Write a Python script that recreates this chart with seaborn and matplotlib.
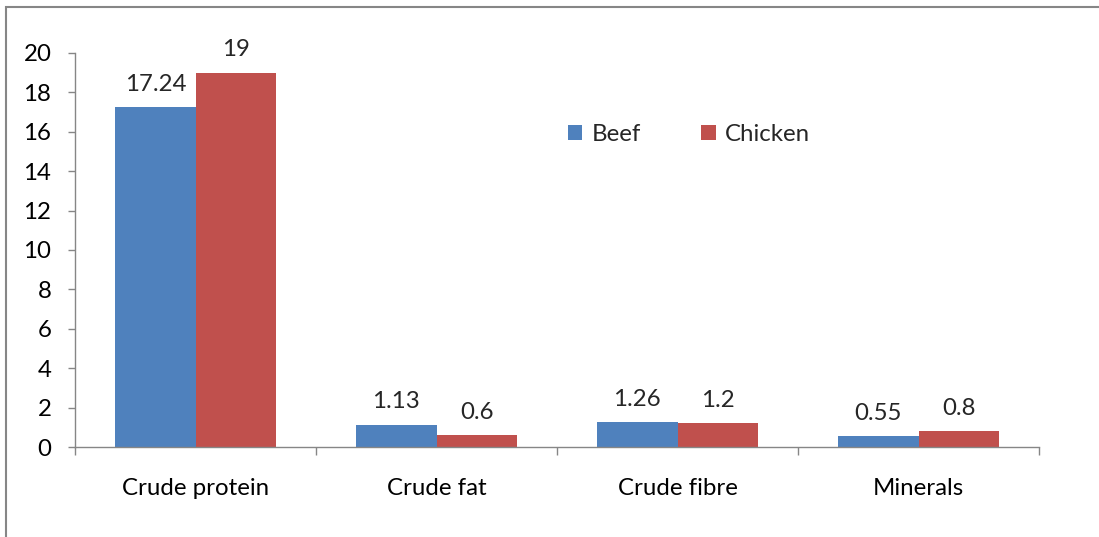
import pandas as pd
import matplotlib.pyplot as plt
import seaborn as sns
from matplotlib.patches import Rectangle

# valeurs
categories = ['Crude protein', 'Crude fat', 'Crude fibre', 'Minerals']
beef = [17.24, 1.13, 1.26, 0.55]
chicken = [19, 0.6, 1.2, 0.8]

df = pd.DataFrame({
    'component': categories * 2,
    'value': beef + chicken,
    'meat': ['Beef'] * 4 + ['Chicken'] * 4,
})

sns.set_style('white')
plt.rcParams['font.family'] = ['Lato', 'DejaVu Sans']
fs = 17.3

fig = plt.figure(figsize=(10.99, 5.37), dpi=100)
ax = fig.add_axes([75 / 1099, 1 - 447 / 537, 964 / 1099, 394 / 537])

sns.barplot(data=df, x='component', y='value', hue='meat',
            palette=['#4F81BD', '#C0504D'], saturation=1, width=0.667,
            linewidth=0, ax=ax)

for c in ax.containers:
    ax.bar_label(c, fmt='%g', padding=9, fontsize=fs)

ax.set_ylim(0, 20)
ax.set_xlim(-0.5, 3.5)
ax.set_yticks(range(0, 21, 2))
ax.set_xticks(range(4))
ax.set_xticks([-0.5, 0.5, 1.5, 2.5, 3.5], minor=True)
ax.set_xlabel('')
ax.set_ylabel('')

gray = '#868686'
for s in ['top', 'right']:
    ax.spines[s].set_visible(False)
for s in ['left', 'bottom']:
    ax.spines[s].set_color(gray)
    ax.spines[s].set_linewidth(1)

ax.tick_params(axis='y', which='major', left=True, length=5, width=1, color=gray,
               pad=12, labelsize=fs, labelcolor='black')
ax.tick_params(axis='x', which='major', bottom=True, length=0, pad=22,
               labelsize=fs, labelcolor='black')
ax.tick_params(axis='x', which='minor', bottom=True, length=6, width=1, color=gray)

ax.legend(loc='center', bbox_to_anchor=(0.637, 0.794), ncol=2, frameon=False,
          fontsize=fs, handlelength=0.6, handleheight=0.6, columnspacing=2.5,
          handletextpad=0.4)

# bordure du graphique (coupée à droite et en bas)
fig.patches.append(Rectangle((6 / 1099, -0.05), 1.1, 1 - 7 / 537 + 0.05,
                             transform=fig.transFigure, fill=False,
                             edgecolor=gray, linewidth=1.5))

fig.savefig('out.png', dpi=100)
